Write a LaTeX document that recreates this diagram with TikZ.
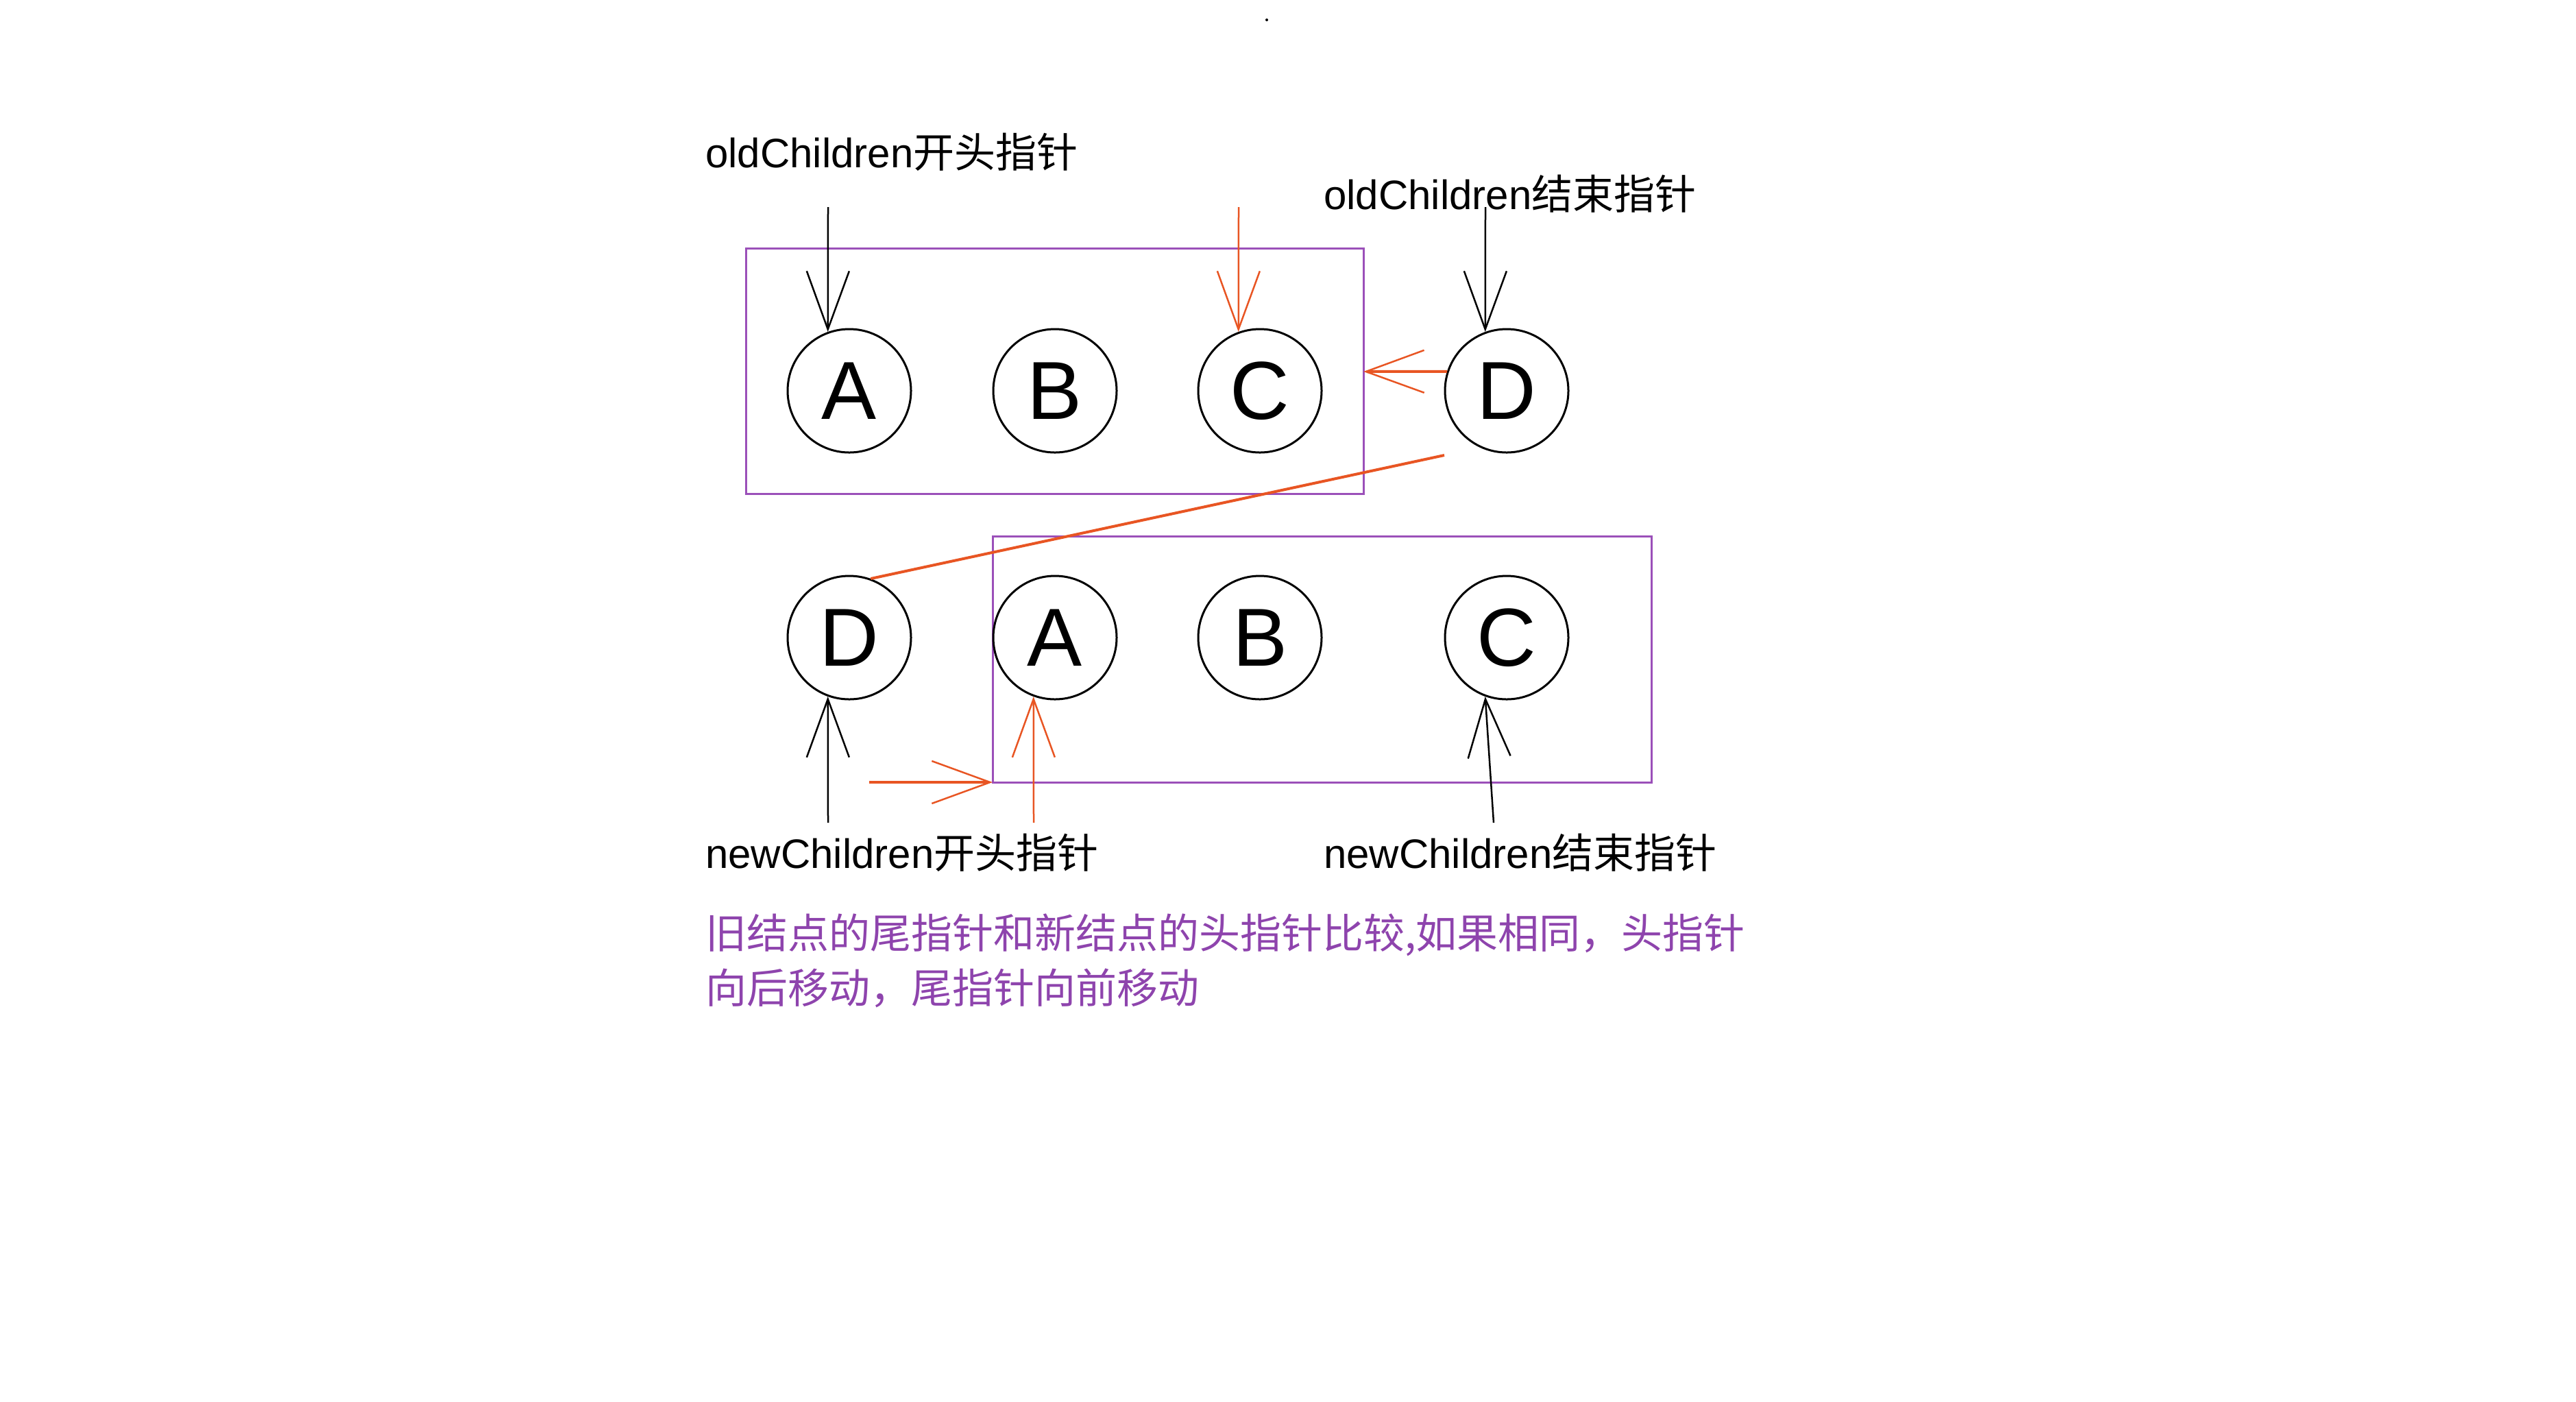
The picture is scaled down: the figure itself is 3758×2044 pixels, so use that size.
\documentclass[tikz,border=0pt]{standalone}
\usepackage{fontspec}
\setmainfont{Liberation Sans}
\newfontfamily\cjk{Noto Sans CJK SC}
\usetikzlibrary{arrows.meta}
\definecolor{boxpurple}{RGB}{155,80,185}
\definecolor{ptrorange}{RGB}{232,85,35}
\definecolor{notepurple}{RGB}{142,68,173}

\begin{document}
\begin{tikzpicture}[x=0.2pt,y=0.2pt,yscale=-1,
  elem/.style={draw, circle, minimum size=36pt, inner sep=0pt, line width=0.6pt, font=\fontsize{24}{24}\selectfont},
  ptr/.style={line width=0.5pt, -{Straight Barb[length=17pt,width=12.4pt,line width=0.5pt]}},
  lbl/.style={anchor=west, inner sep=0pt, font=\fontsize{12}{14}\selectfont}]
\useasboundingbox (0,0) rectangle (3758,2044);
\fill (1848,29) circle (2);

%Shape: Rectangle [old children]
\draw [boxpurple, line width=0.6pt] (1088,362) rectangle (1989,720);
\coordinate (oldboxeast) at (1989,542);
%Shape: Rectangle [new children]
\draw [boxpurple, line width=0.6pt] (1448,782) rectangle (2409,1141);
\coordinate (newboxsw) at (1448,1141);

% old children
\node [elem] (oldA) at (1239,570) {A};
\node [elem] (oldB) at (1539,570) {B};
\node [elem] (oldC) at (1838,570) {C};
\node [elem] (oldD) at (2198,570) {D};
% new children
\node [elem] (newD) at (1239,930) {D};
\node [elem] (newA) at (1539,930) {A};
\node [elem] (newB) at (1838,930) {B};
\node [elem] (newC) at (2198,930) {C};

% Text Node
\node [lbl] (oldStart) at (1028,222) {oldChildren{\cjk 开头指针}};
\node [lbl] (oldEnd) at (1930,283) {oldChildren{\cjk 结束指针}};
\node [lbl] (newStart) at (1028,1244) {newChildren{\cjk 开头指针}};
\node [lbl] (newEnd) at (1930,1244) {newChildren{\cjk 结束指针}};
\node [anchor=west, inner sep=0pt, align=left, text=notepurple, font=\fontsize{12}{16}\cjk] (note) at (1028,1401)
  {旧结点的尾指针和新结点的头指针比较,如果相同，头指针\\向后移动，尾指针向前移动};

% pointers
\coordinate (oldStartTail) at (1208,302);
\coordinate (oldCTail) at (1807,302);
\coordinate (oldEndTail) at (2167,302);
\coordinate (newStartTail) at (1208,1200);
\coordinate (newATail) at (1508,1200);
\coordinate (newEndTail) at (2179,1200);
\coordinate (moveTail) at (2107,664);
\coordinate (shiftTail) at (1268,1141);

\draw [ptr] (oldStartTail) -- (oldA.110);
\draw [ptr, ptrorange] (oldCTail) -- (oldC.110);
\draw [ptr] (oldEndTail) -- (oldD.110);
\draw [ptr] (newStartTail) -- (newD.250);
\draw [ptr, ptrorange] (newATail) -- (newA.250);
\draw [ptr] (newEndTail) -- (newC.250);
\draw [ptr, ptrorange, line width=0.8pt] (oldD.162) -- (oldboxeast);
\draw [ptrorange, line width=0.8pt] (moveTail) -- (newD.70);
\draw [ptr, ptrorange, line width=0.8pt] (shiftTail) -- (newboxsw);
\end{tikzpicture}
\end{document}
